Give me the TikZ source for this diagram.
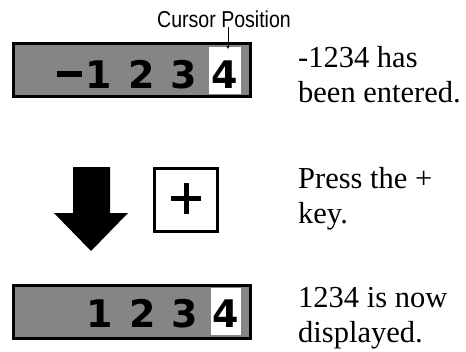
\documentclass[tikz,border=0pt]{standalone}
\usepackage{fontspec}
\setmainfont{Liberation Serif}
\setsansfont{Liberation Sans}
\newfontfamily\labelfont[FakeStretch=0.85]{Liberation Sans}
\newfontfamily\digitfont{DejaVu Sans}
\usetikzlibrary{arrows.meta}
\tikzset{
  display/.style={fill=black!48, draw=black, line width=3pt},
  cursorbox/.style={fill=white, draw=none},
  digit/.style={font=\digitfont\bfseries\fontsize{38}{38}\selectfont, anchor=base, inner sep=0pt},
  note/.style={font=\fontsize{30.5}{35}\selectfont, anchor=base west, inner sep=0pt, align=left},
  keybox/.style={draw=black, line width=3pt, fill=white},
}
\begin{document}
\begin{tikzpicture}[x=1pt,y=-1pt]
\useasboundingbox (0,0) rectangle (466,351);
% top display
\draw[display] (13.5,43.5) rectangle (250.5,96.5);
\fill[cursorbox] (209,47) rectangle (241,94);
\node[name=curA, minimum width=32pt, minimum height=47pt, inner sep=0pt] at (225,70.5) {};
\fill[black] (57,71) rectangle (82,77);
\node[digit] (a1) at (99,88.5) {1};
\node[digit] (a2) at (142,88.5) {2};
\node[digit] (a3) at (184,88.5) {3};
\node[digit] (a4) at (225,88.5) {4};
% cursor label
\node[font=\labelfont\fontsize{23}{23}\selectfont, anchor=base west, inner sep=0pt] (lab) at (157,27) {Cursor Position};
\coordinate (tip) at (228,49);
\draw[line width=1pt, -{Latex[length=3pt,width=3.5pt]}] (lab.south -| tip) -- (tip);
% arrow
\fill[black] (73,167) -- (110,167) -- (110,213) -- (128,213) -- (91,251) -- (54,213) -- (73,213) -- cycle;
% plus key
\draw[keybox] (154.5,168.5) rectangle (217.5,231.5);
\node[name=key, minimum size=63pt, inner sep=0pt] at (186,200) {};
\draw[line width=5pt] (171,198) -- (201,198);
\draw[line width=5pt] (186,183) -- (186,214);
% bottom display
\draw[display] (13.5,285.5) rectangle (250.5,338.5);
\fill[cursorbox] (211,288) rectangle (241,335);
\node[digit] (b1) at (100,327) {1};
\node[digit] (b2) at (143,327) {2};
\node[digit] (b3) at (185,327) {3};
\node[digit] (b4) at (226,327) {4};
% notes
\node[note] (n1) at (298,102) {-1234 has\\been entered.};
\node[note] (n2) at (298,223) {Press the +\\key.};
\node[note] (n3) at (298,342) {1234 is now\\displayed.};
\end{tikzpicture}
\end{document}
